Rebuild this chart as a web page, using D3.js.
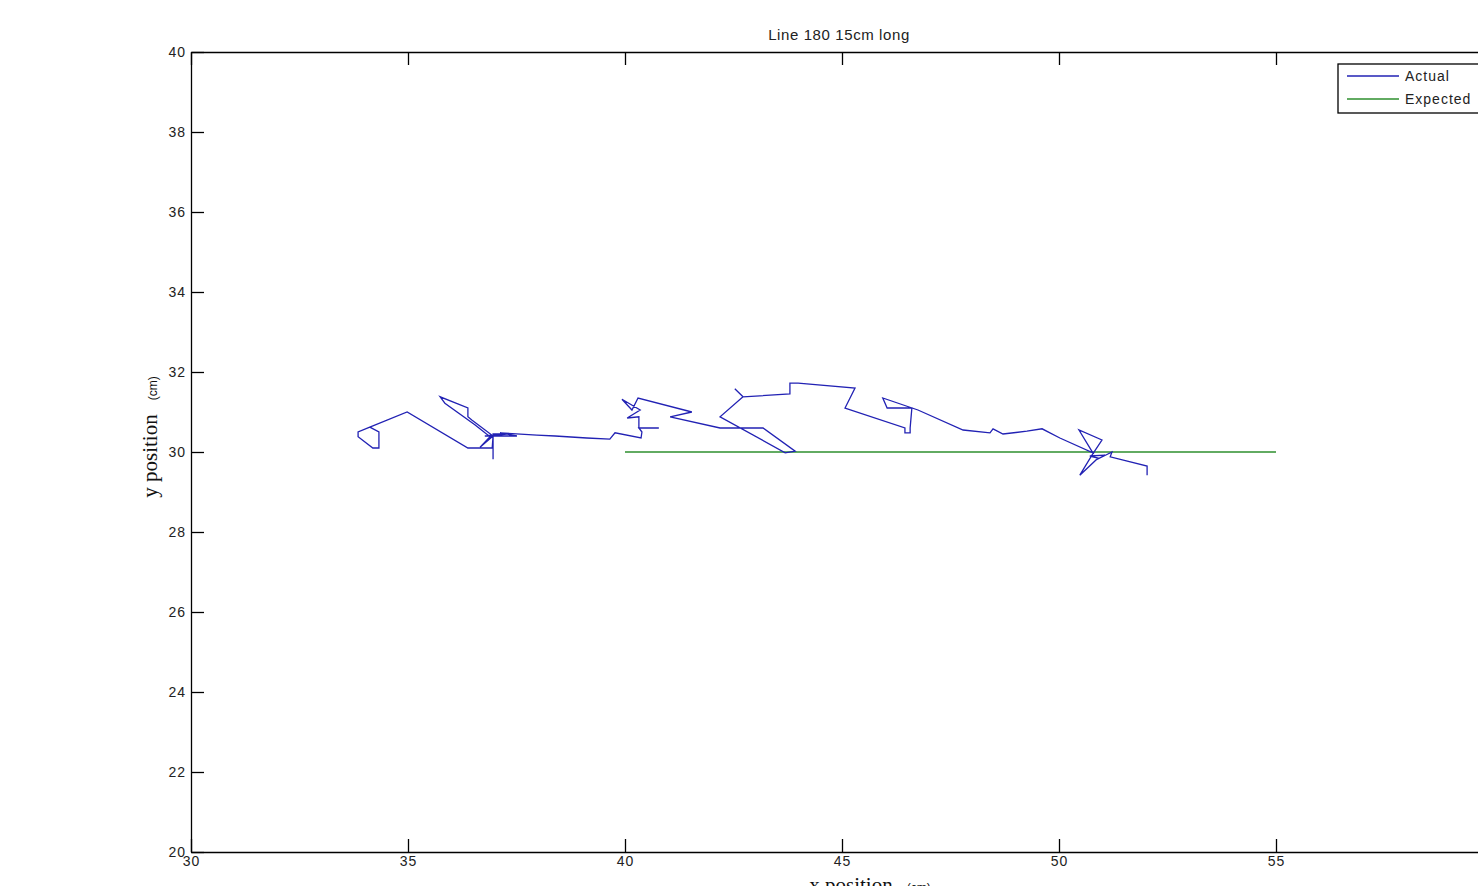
<!DOCTYPE html>
<html>
<head>
<meta charset="utf-8">
<script src="https://cdn.jsdelivr.net/npm/d3@7"></script>
<style>
  html, body { margin: 0; padding: 0; background: #fff; overflow: hidden; }
  svg { display: block; }
  .tick text { font-family: "Liberation Sans", Arial, sans-serif; font-size: 14px; fill: #222; letter-spacing: 1px; }
</style>
</head>
<body>
<svg id="chart" width="1478" height="886"></svg>
<script>
// Measured robot path (cm)
const actualX = [34.12, 34.33, 34.33, 34.19, 33.85, 33.85, 34.12, 34.98, 36.38, 36.94,
  36.96, 36.47, 36.38, 36.38, 35.74, 35.85, 36.54, 36.89, 36.66, 36.96,
  36.96, 36.96, 37.28, 36.77, 37.51, 37.12, 37.97, 38.39, 39.12, 39.65,
  39.77, 40.37, 40.39, 40.32, 40.78, 40.32, 40.32, 40.05, 40.35, 39.93,
  40.16, 40.30, 41.54, 41.04, 42.19, 43.18, 43.92, 43.69, 42.19, 42.72,
  42.53, 42.72, 43.80, 43.80, 43.99, 45.30, 45.07, 46.45, 46.45, 46.57,
  46.57, 46.61, 46.04, 45.94, 46.75, 47.79, 48.41, 48.48, 48.71, 49.26,
  49.61, 50.02, 50.78, 50.46, 50.99, 50.76, 50.48, 50.90, 50.71, 51.06,
  50.85, 51.22, 51.18, 52.03, 52.03];
const actualY = [30.62, 30.50, 30.10, 30.10, 30.38, 30.50, 30.62, 31.00, 30.10, 30.10,
  30.40, 30.80, 30.88, 31.10, 31.38, 31.22, 30.68, 30.38, 30.12, 30.40,
  29.82, 30.45, 30.45, 30.40, 30.40, 30.48, 30.42, 30.40, 30.35, 30.32,
  30.48, 30.35, 30.50, 30.60, 30.60, 30.60, 30.88, 30.85, 31.05, 31.32,
  31.05, 31.35, 31.00, 30.88, 30.60, 30.60, 30.02, 29.98, 30.88, 31.38,
  31.58, 31.38, 31.45, 31.72, 31.72, 31.60, 31.10, 30.60, 30.48, 30.48,
  30.60, 31.10, 31.10, 31.35, 31.05, 30.55, 30.48, 30.58, 30.45, 30.52,
  30.58, 30.35, 29.98, 30.55, 30.30, 29.92, 29.42, 29.85, 29.90, 29.92,
  29.80, 30.00, 29.88, 29.65, 29.42];

// Planned straight line
const expectedX = [40, 55];
const expectedY = [30, 30];

const xTicks = [30, 35, 40, 45, 50, 55];
const yTicks = [20, 22, 24, 26, 28, 30, 32, 34, 36, 38, 40];
const seriesNames = ["Actual", "Expected"];
const titleText = "Line 180 15cm long";

const svg = d3.select("#chart");
const plotLeft = 191, plotTop = 52, plotRight = 1493, plotBottom = 852;

const x = d3.scaleLinear().domain([30, 60]).range([plotLeft, plotRight]);
const y = d3.scaleLinear().domain([20, 40]).range([plotBottom, plotTop]);

const blue = "#2222b4";
const green = "#2e8f2e";

// Axes box with inward ticks on every side
const tickLen = 13;
const styleAxis = g => g.selectAll("line, path").attr("stroke", "#000").attr("stroke-width", 1.3);
svg.append("g").attr("transform", `translate(0,${plotBottom})`)
  .call(d3.axisBottom(x).tickValues(xTicks).tickSizeInner(-tickLen).tickSizeOuter(0).tickPadding(4))
  .call(styleAxis);
svg.append("g").attr("transform", `translate(0,${plotTop})`)
  .call(d3.axisTop(x).tickValues(xTicks).tickSizeInner(-tickLen).tickSizeOuter(0).tickFormat(""))
  .call(styleAxis);
svg.append("g").attr("transform", `translate(${plotLeft},0)`)
  .call(d3.axisLeft(y).tickValues(yTicks).tickSizeInner(-tickLen).tickSizeOuter(0).tickPadding(5))
  .call(styleAxis);
svg.append("g").attr("transform", `translate(${plotRight},0)`)
  .call(d3.axisRight(y).tickValues(yTicks).tickSizeInner(-tickLen).tickSizeOuter(0).tickFormat(""))
  .call(styleAxis);

// Data lines
const line = d3.line().x(d => x(d[0])).y(d => y(d[1]));
svg.append("path")
  .datum(expectedX.map((v, i) => [v, expectedY[i]]))
  .attr("d", line).attr("fill", "none").attr("stroke", green).attr("stroke-width", 1.4);
svg.append("path")
  .datum(actualX.map((v, i) => [v, actualY[i]]))
  .attr("d", line).attr("fill", "none").attr("stroke", blue).attr("stroke-width", 1.3)
  .attr("stroke-linejoin", "miter");

// Title
svg.append("text")
  .attr("x", (x(30) + x(60)) / 2 - 3).attr("y", 40)
  .attr("text-anchor", "middle")
  .attr("font-family", "Liberation Sans, Arial, sans-serif")
  .attr("font-size", 15).attr("letter-spacing", 0.6).attr("fill", "#222")
  .text(titleText);

// Axis labels
const yl = svg.append("text")
  .attr("transform", `translate(157,437) rotate(-90)`)
  .attr("text-anchor", "middle").attr("fill", "#111");
yl.append("tspan").attr("font-family", "Liberation Serif, Times New Roman, serif")
  .attr("font-size", 21).text("y position");
yl.append("tspan").attr("font-family", "Liberation Sans, Arial, sans-serif")
  .attr("font-size", 12).attr("dx", 14).text("(cm)");

const xl = svg.append("text")
  .attr("x", 870).attr("y", 892)
  .attr("text-anchor", "middle").attr("fill", "#111");
xl.append("tspan").attr("font-family", "Liberation Serif, Times New Roman, serif")
  .attr("font-size", 21).text("x position");
xl.append("tspan").attr("font-family", "Liberation Sans, Arial, sans-serif")
  .attr("font-size", 12).attr("dx", 14).text("(cm)");

// Legend
const lg = svg.append("g").attr("transform", "translate(1338,64)");
lg.append("rect").attr("x", 0).attr("y", 0).attr("width", 170).attr("height", 49)
  .attr("fill", "#fff").attr("stroke", "#000").attr("stroke-width", 1.3);
const colors = [blue, green];
seriesNames.forEach((name, i) => {
  const cy = 12 + i * 23;
  lg.append("line").attr("x1", 9).attr("x2", 61).attr("y1", cy).attr("y2", cy)
    .attr("stroke", colors[i]).attr("stroke-width", 1.4);
  lg.append("text").attr("x", 67).attr("y", cy + 5)
    .attr("font-family", "Liberation Sans, Arial, sans-serif")
    .attr("font-size", 14).attr("letter-spacing", 1).attr("fill", "#222")
    .text(name);
});
</script>
</body>
</html>
